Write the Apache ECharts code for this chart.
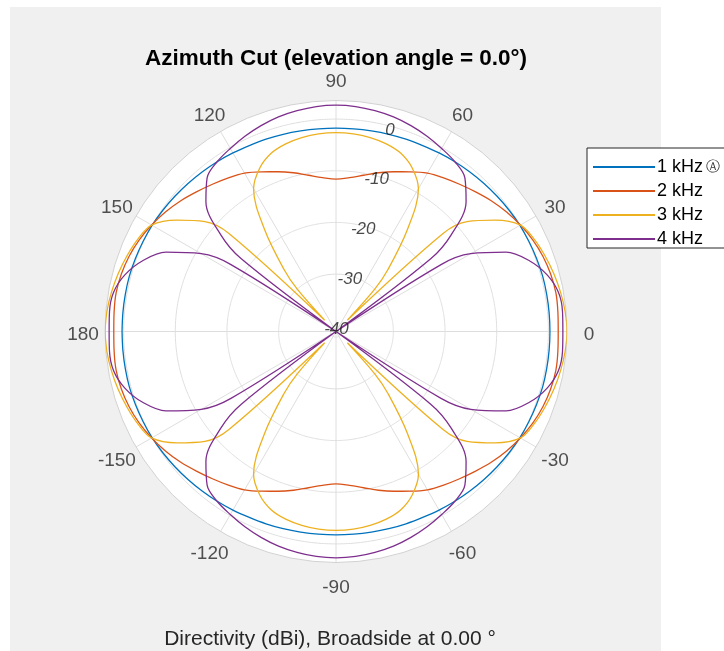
<!DOCTYPE html>
<html>
<head>
<meta charset="utf-8">
<script src="https://cdn.jsdelivr.net/npm/echarts@6/dist/echarts.min.js"></script>
<style>
  html, body { margin: 0; padding: 0; background: #ffffff; }
  #chart { width: 724px; height: 651px; }
</style>
</head>
<body>
<div id="chart"></div>
<script>
// Azimuth directivity (dBi) versus azimuth angle (deg), elevation 0°.
const seriesNames = ['1 kHz', '2 kHz', '3 kHz', '4 kHz'];
const seriesColors = ['#0072BD', '#D95319', '#EDB120', '#7E2F8E'];

// Magnitude ring values and the angle where their labels sit
const ringValues = [-40, -30, -20, -10, 0];
const ringLabelAngle = 75;

// Azimuth tick labels around the rim
const angleTickValues = [-150, -120, -90, -60, -30, 0, 30, 60, 90, 120, 150, 180];

// Angle grid shared by the 1 kHz and 2 kHz cuts
const angles = [-180,-175,-170,-165,-160,-155,-150,-145,-140,-135,-130,-125,-120,-115,-110,-105,-100,-95,-90,
  -85,-80,-75,-70,-65,-60,-55,-50,-45,-40,-35,-30,-25,-20,-15,-10,-5,0,
  5,10,15,20,25,30,35,40,45,50,55,60,65,70,75,80,85,90,
  95,100,105,110,115,120,125,130,135,140,145,150,155,160,165,170,175,180];

const dir1k = [0.3,0.3,0.3,0.3,0.2,0.1,0.0,-0.2,-0.4,-0.6,-0.8,-1.0,-1.2,-1.4,-1.5,-1.6,-1.7,-1.75,-1.75,
  -1.75,-1.7,-1.6,-1.5,-1.4,-1.2,-1.0,-0.8,-0.6,-0.4,-0.2,0.0,0.1,0.2,0.3,0.3,0.3,0.3,
  0.3,0.3,0.3,0.2,0.1,0.0,-0.2,-0.4,-0.6,-0.8,-1.0,-1.2,-1.4,-1.5,-1.6,-1.7,-1.75,-1.75,
  -1.75,-1.7,-1.6,-1.5,-1.4,-1.2,-1.0,-0.8,-0.6,-0.4,-0.2,0.0,0.1,0.2,0.3,0.3,0.3,0.3];

const dir2k = [1.9,2.0,2.1,1.9,1.5,0.9,0.1,-0.8,-1.8,-2.9,-3.9,-4.8,-5.7,-7.0,-8.2,-9.3,-10.4,-11.2,-11.6,
  -11.2,-10.4,-9.3,-8.2,-7.0,-5.7,-4.8,-3.9,-2.9,-1.8,-0.8,0.1,0.9,1.5,1.9,2.1,2.0,1.9,
  2.0,2.1,1.9,1.5,0.9,0.1,-0.8,-1.8,-2.9,-3.9,-4.8,-5.7,-7.0,-8.2,-9.3,-10.4,-11.2,-11.6,
  -11.2,-10.4,-9.3,-8.2,-7.0,-5.7,-4.8,-3.9,-2.9,-1.8,-0.8,0.1,0.9,1.5,1.9,2.1,2.0,1.9];

// 3 kHz: finer steps around the nulls
const angles3k = [-180,-175,-170,-165,-160,-155,-150,-145,-140,-137.5,-135,-132.5,-130,-125,-120,-115,-110,-105,-100,-95,-90,
  -85,-80,-75,-70,-65,-60,-55,-50,-47.5,-45,-42.5,-40,-35,-30,-25,-20,-15,-10,-5,0,
  5,10,15,20,25,30,35,40,42.5,45,47.5,50,55,60,65,70,75,80,85,90,
  95,100,105,110,115,120,125,130,132.5,135,137.5,140,145,150,155,160,165,170,175,180];
const dir3k = [3.6,3.4,3.0,2.5,1.9,1.2,0.1,-3.5,-8.0,-13,-38,-30,-25.5,-17,-9.2,-6.2,-4.4,-3.5,-3.0,-2.7,-2.6,
  -2.7,-3.0,-3.5,-4.4,-6.2,-9.2,-17,-25.5,-30,-38,-13,-8.0,-3.5,0.1,1.2,1.9,2.5,3.0,3.4,3.6,
  3.4,3.0,2.5,1.9,1.2,0.1,-3.5,-8.0,-13,-38,-30,-25.5,-17,-9.2,-6.2,-4.4,-3.5,-3.0,-2.7,-2.6,
  -2.7,-3.0,-3.5,-4.4,-6.2,-9.2,-17,-25.5,-30,-38,-13,-8.0,-3.5,0.1,1.2,1.9,2.5,3.0,3.4,3.6];

// 4 kHz: finer steps around the nulls
const angles4k = [-180,-175,-170,-165,-160,-155,-150,-147.5,-145,-142.5,-140,-135,-130,-125,-120,-115,-110,-105,-100,-95,-90,
  -85,-80,-75,-70,-65,-60,-55,-50,-45,-40,-37.5,-35,-32.5,-30,-25,-20,-15,-10,-5,0,
  5,10,15,20,25,30,32.5,35,37.5,40,45,50,55,60,65,70,75,80,85,90,
  95,100,105,110,115,120,125,130,135,140,142.5,145,147.5,150,155,160,165,170,175,180];
const dir4k = [2.8,2.9,2.6,1.2,-1.2,-4.8,-11,-17,-41,-18,-12,-5.5,-2.3,-1.0,-0.2,0.6,1.3,1.9,2.3,2.6,2.7,
  2.6,2.3,1.9,1.3,0.6,-0.2,-1.0,-2.3,-5.5,-12,-18,-41,-17,-11,-4.8,-1.2,1.2,2.6,2.9,2.8,
  2.9,2.6,1.2,-1.2,-4.8,-11,-17,-41,-18,-12,-5.5,-2.3,-1.0,-0.2,0.6,1.3,1.9,2.3,2.6,2.7,
  2.6,2.3,1.9,1.3,0.6,-0.2,-1.0,-2.3,-5.5,-12,-18,-41,-17,-11,-4.8,-1.2,1.2,2.6,2.9,2.8];

const magMin = -41.1;
const magMax = 3.6;
// gap (px) between the rim and the centre of each azimuth label, plus a small downward nudge
const rimLabelGap = 22;
const rimLabelDrop = 3;

const pairs = (ang, val) => ang.map((a, i) => [val[i], a]);

const chart = echarts.init(document.getElementById('chart'), null, { renderer: 'canvas' });

// Concentric magnitude rings as closed polylines through the polar scale
const ringSweep = [];
for (let a = -180; a <= 180; a += 2) ringSweep.push(a);
const ringSeries = ringValues.map(v => ({
  type: 'line',
  coordinateSystem: 'polar',
  data: ringSweep.map(a => [v, a]),
  showSymbol: false,
  smooth: true,
  silent: true,
  lineStyle: { color: '#dedede', width: 1 },
  z: 1,
  legendHoverLink: false
}));

const curves = [
  [angles, dir1k], [angles, dir2k], [angles3k, dir3k], [angles4k, dir4k]
].map(([ang, val], i) => ({
  name: seriesNames[i],
  type: 'line',
  coordinateSystem: 'polar',
  data: pairs(ang, val),
  showSymbol: false,
  symbol: 'none',
  smooth: 0.35,
  lineStyle: { color: seriesColors[i], width: 1.3 },
  itemStyle: { color: seriesColors[i] },
  z: 3
}));

const ringLabels = {
  type: 'scatter',
  coordinateSystem: 'polar',
  data: ringValues.map(v => [v, ringLabelAngle]),
  symbolSize: 0,
  silent: true,
  z: 5,
  label: {
    show: true,
    position: 'inside',
    offset: [-1, 3.5],
    formatter: p => String(p.value[0]),
    fontFamily: 'Liberation Sans',
    fontStyle: 'italic',
    fontSize: 17,
    color: '#1a1a1a'
  }
};

// Azimuth labels: anchored on the rim, pushed outward along each spoke
const rimLabels = {
  type: 'scatter',
  coordinateSystem: 'polar',
  data: angleTickValues.map(a => {
    const t = a * Math.PI / 180;
    return {
      value: [magMax, a],
      label: { offset: [rimLabelGap * Math.cos(t), -rimLabelGap * Math.sin(t) + rimLabelDrop] }
    };
  }),
  symbolSize: 0,
  silent: true,
  z: 5,
  label: {
    show: true,
    position: 'inside',
    formatter: p => String(p.value[1]),
    fontFamily: 'Liberation Sans',
    fontSize: 19,
    color: '#262626'
  }
};

chart.setOption({
  animation: false,
  backgroundColor: '#ffffff',
  graphic: [{
    type: 'rect',
    left: 10, top: 7,
    shape: { width: 651, height: 644 },
    style: { fill: '#f0f0f0' },
    z: -10, silent: true
  }],
  title: [{
    text: 'Azimuth Cut (elevation angle = 0.0°)',
    left: 336, top: 47, textAlign: 'center', padding: 0,
    textStyle: { fontFamily: 'Liberation Sans', fontWeight: 'bold', fontSize: 22.5, color: '#000000' }
  }, {
    text: 'Directivity (dBi), Broadside at 0.00 °',
    left: 330, top: 629, textAlign: 'center', padding: 0,
    textStyle: { fontFamily: 'Liberation Sans', fontWeight: 'normal', fontSize: 21, color: '#262626' }
  }],
  legend: {
    orient: 'vertical',
    left: 587, top: 148,
    data: seriesNames,
    icon: 'rect',
    backgroundColor: '#ffffff',
    borderColor: '#262626',
    borderWidth: 1,
    borderRadius: 0,
    padding: [10, 80, 0, 6],
    itemGap: 6,
    itemWidth: 62,
    itemHeight: 2,
    selectedMode: false,
    formatter: name => name === '1 kHz' ? '{t|' + name + '} {s|Ⓐ}' : '{t|' + name + '}',
    textStyle: {
      color: '#000000',
      rich: {
        t: { fontFamily: 'Liberation Sans', fontSize: 18, lineHeight: 19, color: '#000000', padding: [0, 0, 0, -3] },
        s: { fontFamily: 'DejaVu Sans', fontSize: 14, lineHeight: 19, color: '#333333' }
      }
    }
  },
  polar: { center: [336, 331.5], radius: 231 },
  angleAxis: {
    type: 'value',
    min: -180, max: 180, interval: 30,
    startAngle: 180, clockwise: false,
    axisLine: { show: true, lineStyle: { color: '#d2d2d2', width: 1 } },
    axisTick: { show: false },
    axisLabel: { show: false },
    splitLine: { show: true, lineStyle: { color: '#dedede', width: 1 } }
  },
  radiusAxis: {
    type: 'value',
    min: magMin, max: magMax,
    axisLine: { show: false }, axisTick: { show: false }, axisLabel: { show: false },
    splitLine: { show: false },
    splitArea: { show: true, areaStyle: { color: ['#ffffff'] } }
  },
  series: [...ringSeries, ...curves, ringLabels, rimLabels]
});
</script>
</body>
</html>
